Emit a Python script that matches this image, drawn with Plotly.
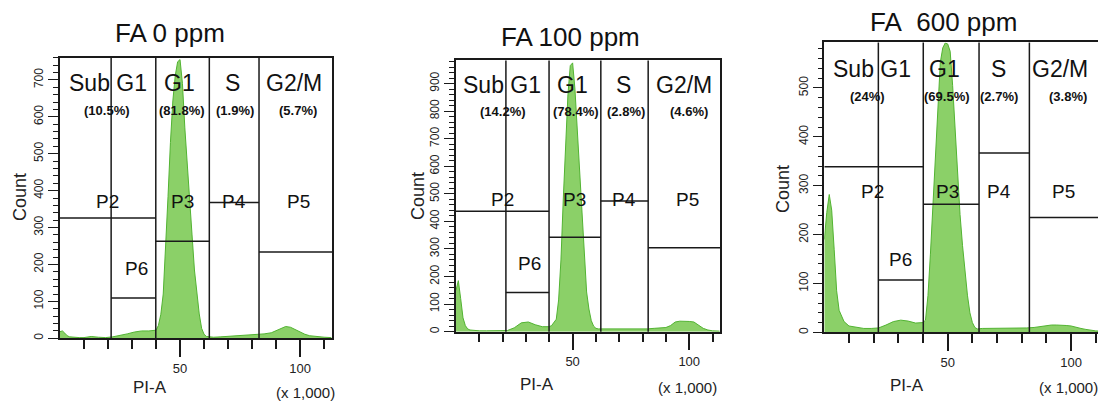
import plotly.graph_objects as go

W, H = 1098, 404

# ---------------- data ----------------
PI_A = [0, 1, 2, 3, 4, 5, 6, 8, 10, 13, 16, 19, 22, 25, 28, 31, 34, 37, 40,
        41, 42, 43, 44, 45, 46, 47, 48, 49, 50, 51, 52, 53, 54, 55, 56, 57, 58, 59, 60, 61, 62,
        64, 67, 70, 73, 76, 79, 82, 85, 88,
        90, 92, 94, 96, 98, 100, 102, 104, 106, 108, 110, 113]

COUNT_FA0 = [18, 20, 14, 7, 4, 3, 2, 2, 2, 5, 3, 2, 4, 7, 12, 17, 20, 20, 22,
             35, 65, 120, 235, 384, 530, 643, 711, 749, 755, 690, 570, 464, 368, 280, 185, 117, 66, 27, 11, 5, 4,
             3, 4, 5, 8, 9, 9, 10, 12, 15,
             20, 27, 32, 30, 24, 16, 11, 7, 5, 4, 3, 2]

COUNT_FA100 = [150, 185, 120, 50, 22, 10, 6, 4, 3, 3, 3, 3, 4, 14, 32, 35, 25, 18, 18,
               22, 32, 45, 115, 260, 481, 700, 860, 965, 975, 880, 730, 560, 400, 255, 144, 82, 40, 20, 12, 10, 10,
               10, 10, 10, 10, 8, 10, 10, 12, 14,
               15, 22, 35, 38, 38, 37, 35, 22, 12, 6, 3, 2]

COUNT_FA600 = [190, 245, 282, 250, 170, 85, 45, 22, 13, 10, 8, 8, 9, 15, 22, 25, 23, 19, 20,
               25, 75, 160, 255, 355, 460, 552, 582, 592, 590, 575, 505, 410, 320, 241, 178, 123, 76, 40, 20, 10, 7,
               8, 8, 8, 8, 8, 9, 9, 10, 12,
               14, 15, 15, 15, 14, 13, 10, 8, 6, 4, 3, 2]

TITLES = ["FA 0 ppm", "FA 100 ppm", "FA\u00a0 600 ppm"]
PHASES = ["Sub G1", "G1", "S", "G2/M"]
PCT_FA0 = ["(10.5%)", "(81.8%)", "(1.9%)", "(5.7%)"]
PCT_FA100 = ["(14.2%)", "(78.4%)", "(2.8%)", "(4.6%)"]
PCT_FA600 = ["(24%)", "(69.5%)", "(2.7%)", "(3.8%)"]

# gate boundaries on PI-A (x 1,000)
GATE_X_FA0 = [21.3, 39.9, 62.2, 82.9]
GATE_X_FA100 = [21.4, 39.9, 62.1, 82.4]
GATE_X_FA600 = [21.9, 40.1, 62.7, 83.1]
# gate marker levels (count): P2, P6, P3, P4, P5
GATE_LEVEL_FA0 = [326, 109, 263, 368, 234]
GATE_LEVEL_FA100 = [437, 142, 342, 474, 304]
GATE_LEVEL_FA600 = [339, 107, 262, 367, 235]

Y_MAX = [760, 984, 593]
X_MAX = [113.3, 113.2, 110.9]
Y_LABEL_MAX = [700, 900, 500]

# ---------------- layout helpers ----------------
BOXES = [(60, 332, 58, 340), (456, 720, 60.7, 333.3), (824.3, 1098, 42.7, 334)]  # px: left,right,top,bottom
TITLE_POS = [(170, 33), (570, 37), (943, 22)]
COUNT_POS = [(20, 198), (418, 197), (783, 190)]
PIA_POS = [(150, 389), (537, 386), (907, 387)]
X1000_POS = [(305, 394), (687, 389), (1068, 389)]
PHASE_FX = [0.175, 0.44, 0.635, 0.862]
PCT_FX = [[0.173, 0.449, 0.643, 0.875], [0.177, 0.453, 0.644, 0.884], [0.157, 0.449, 0.639, 0.889]]
PLAB_FX = [0.175, 0.45, 0.638, 0.875]

FONT = "Liberation Sans, Arial, sans-serif"
NARROW = "Liberation Sans Narrow, Arial Narrow, Liberation Sans, Arial, sans-serif"
FILL = "#8bd068"
EDGE = "#52b332"
LINE = "#1a1a1a"

counts = [COUNT_FA0, COUNT_FA100, COUNT_FA600]
pcts = [PCT_FA0, PCT_FA100, PCT_FA600]
gates_x = [GATE_X_FA0, GATE_X_FA100, GATE_X_FA600]
gates_lv = [GATE_LEVEL_FA0, GATE_LEVEL_FA100, GATE_LEVEL_FA600]

fig = go.Figure()
shapes = []
annotations = []
layout = dict(width=W, height=H, margin=dict(l=0, r=0, t=0, b=0),
              paper_bgcolor="white", plot_bgcolor="white", showlegend=False)

def px(x):
    return x / W

def py(y):
    return 1 - y / H

def ann(**kw):
    d = dict(showarrow=False, xanchor="center", yanchor="middle")
    d.update(kw)
    annotations.append(d)

for i in range(3):
    n = "" if i == 0 else str(i + 1)
    xa, ya = "x" + n, "y" + n
    L, R, T, B = BOXES[i]
    fig.add_trace(go.Scatter(x=PI_A, y=counts[i], mode="lines", fill="tozeroy",
                             fillcolor=FILL, line=dict(color=EDGE, width=1),
                             xaxis=xa, yaxis=ya, hoverinfo="skip"))
    layout["xaxis" + n] = dict(
        domain=[px(L), px(R)], range=[0, X_MAX[i]], anchor=ya,
        showline=True, linecolor=LINE, linewidth=1.5, mirror=True,
        showgrid=False, zeroline=False,
        tickmode="array", tickvals=[50, 100], ticktext=["50", "100"],
        ticks="outside", ticklen=17, tickwidth=1.5, tickcolor=LINE,
        tickfont=dict(family=NARROW, size=13, color="#222"),
        minor=dict(tickmode="array", tickvals=[10, 20, 30, 40, 60, 70, 80, 90, 110],
                   ticks="outside", ticklen=9, tickwidth=1.5, tickcolor=LINE, showgrid=False),
    )
    layout["yaxis" + n] = dict(
        domain=[py(B), py(T)], range=[0, Y_MAX[i]], anchor=xa,
        showline=True, linecolor=LINE, linewidth=1.5, mirror=(i < 2),
        showgrid=False, zeroline=False,
        tickmode="array", tickvals=list(range(0, Y_LABEL_MAX[i] + 1, 100)),
        ticks="outside", ticklen=10, tickwidth=1.2, tickcolor=LINE, tickangle=-90,
        tickfont=dict(family=NARROW, size=12, color="#222"),
        minor=dict(dtick=20, tick0=0, ticks="outside", ticklen=5, tickwidth=1.2,
                   tickcolor=LINE, showgrid=False),
    )
    # gate lines
    gx = gates_x[i]
    lv = gates_lv[i]
    for v in gx:
        shapes.append(dict(type="line", xref=xa, yref=ya + " domain", x0=v, x1=v, y0=0, y1=1,
                           line=dict(color=LINE, width=1.5)))
    segs = [(0, gx[1], lv[0]), (gx[0], gx[1], lv[1]), (gx[1], gx[2], lv[2]),
            (gx[2], gx[3], lv[3]), (gx[3], X_MAX[i], lv[4])]
    for x0, x1, yv in segs:
        shapes.append(dict(type="line", xref=xa, yref=ya, x0=x0, x1=x1, y0=yv, y1=yv,
                           line=dict(color=LINE, width=1.5)))
    # texts inside plot
    for k, ph in enumerate(PHASES):
        ann(text=ph, xref=xa + " domain", yref=ya + " domain", x=PHASE_FX[k], y=0.91,
            font=dict(family=FONT, size=23, color="#111"))
        ann(text="<b>" + pcts[i][k] + "</b>", xref=xa + " domain", yref=ya + " domain",
            x=PCT_FX[i][k], y=0.812, font=dict(family=FONT, size=13, color="#111"))
    for k, nm in enumerate(["P2", "P3", "P4", "P5"]):
        ann(text=nm, xref=xa + " domain", yref=ya + " domain", x=PLAB_FX[k], y=0.487,
            font=dict(family=NARROW, size=19, color="#111"))
    ann(text="P6", xref=xa + " domain", yref=ya + " domain", x=0.28, y=0.25,
        font=dict(family=NARROW, size=19, color="#111"))
    # titles and axis labels
    tx, ty = TITLE_POS[i]
    ann(text=TITLES[i], xref="paper", yref="paper", x=px(tx), y=py(ty),
        font=dict(family=FONT, size=26, color="#111"))
    cx, cy = COUNT_POS[i]
    ann(text="Count", xref="paper", yref="paper", x=px(cx), y=py(cy), textangle=-90,
        font=dict(family=FONT, size=18, color="#222"))
    ax_, ay_ = PIA_POS[i]
    ann(text="PI-A", xref="paper", yref="paper", x=px(ax_), y=py(ay_),
        font=dict(family=NARROW, size=17, color="#222"))
    kx, ky = X1000_POS[i]
    ann(text="(x 1,000)", xref="paper", yref="paper", x=px(kx), y=py(ky),
        font=dict(family=NARROW, size=15, color="#222"))

layout["shapes"] = shapes
layout["annotations"] = annotations
fig.update_layout(**layout)
fig.write_html("out.html")
